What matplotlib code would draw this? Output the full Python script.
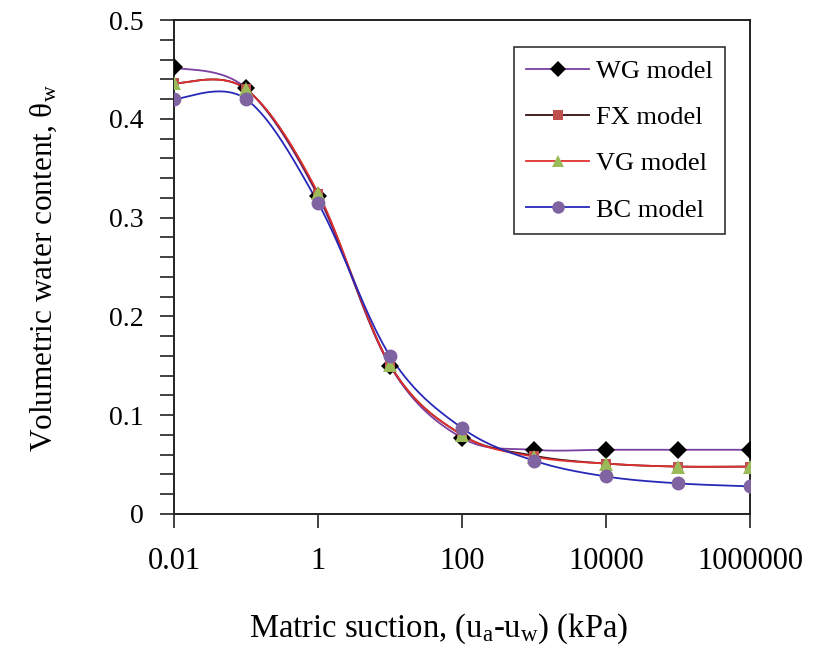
import numpy as np
import matplotlib
matplotlib.use("Agg")
import matplotlib.pyplot as plt
from matplotlib.ticker import FixedLocator, MultipleLocator, FixedFormatter

plt.rcParams['font.family'] = ['Liberation Serif', 'DejaVu Serif']
plt.rcParams['mathtext.fontset'] = 'custom'
plt.rcParams['mathtext.rm'] = 'Liberation Serif'
plt.rcParams['mathtext.it'] = 'Liberation Serif:italic'

suction = [0.01, 0.1, 1, 10, 100, 1000, 10000, 100000, 1000000]
wg = [0.452, 0.431, 0.322, 0.150, 0.077, 0.065, 0.065, 0.065, 0.065]
fx = [0.436, 0.430, 0.324, 0.151, 0.080, 0.059, 0.051, 0.048, 0.048]
vg = [0.436, 0.430, 0.325, 0.151, 0.080, 0.058, 0.051, 0.048, 0.048]
bc = [0.420, 0.420, 0.315, 0.160, 0.087, 0.054, 0.038, 0.031, 0.028]

x_ticks = [0.01, 1, 100, 10000, 1000000]
x_tick_labels = ['0.01', '1', '100', '10000', '1000000']
y_ticks = [0, 0.1, 0.2, 0.3, 0.4, 0.5]
y_tick_labels = ['0', '0.1', '0.2', '0.3', '0.4', '0.5']
series_names = ['WG model', 'FX model', 'VG model', 'BC model']


def smooth(xs, ys, n=40):
    # Excel-like smoothed line (Catmull-Rom Bezier) in log-x space
    lx = np.log10(np.asarray(xs, float))
    y = np.asarray(ys, float)
    P = np.column_stack([lx, y])
    m = len(P)
    out = []
    t = np.linspace(0, 1, n)[:, None]
    for i in range(m - 1):
        p0 = P[i - 1] if i > 0 else P[i]
        p1 = P[i]
        p2 = P[i + 1]
        p3 = P[i + 2] if i + 2 < m else P[i + 1]
        c1 = p1 + (p2 - p0) / 6.0
        c2 = p2 - (p3 - p1) / 6.0
        seg = ((1 - t) ** 3) * p1 + 3 * ((1 - t) ** 2) * t * c1 + 3 * (1 - t) * t ** 2 * c2 + t ** 3 * p2
        out.append(seg if i == 0 else seg[1:])
    pts = np.vstack(out)
    return 10 ** pts[:, 0], pts[:, 1]


fig = plt.figure(figsize=(8.13, 6.48), dpi=100)
ax = fig.add_axes([0.214, 0.2068, 0.7085, 0.7623])

styles = [
    (wg, '#7B3FA0', 'D', 'black', 9.5),
    (fx, '#3a1010', 's', '#C0504D', 7.5),
    (vg, '#E03030', '^', '#9BBB59', 10),
    (bc, '#2828B8', 'o', '#8064A2', 10),
]
handles = []
for (ys, lc, mk, mc, ms), name in zip(styles, series_names):
    sx, sy = smooth(suction, ys)
    ax.plot(sx, sy, color=lc, lw=1.3, zorder=2)
    ax.plot(suction, ys, linestyle='none', marker=mk, color=mc, markersize=ms,
            markeredgewidth=0, zorder=3)
    h, = ax.plot([], [], color=lc, lw=1.3, marker=mk, markerfacecolor=mc,
                 markeredgewidth=0, markersize=ms * 0.9, label=name)
    handles.append(h)

ax.set_xscale('log')
ax.set_xlim(0.01, 1000000)
ax.set_ylim(0, 0.5)
ax.xaxis.set_major_locator(FixedLocator(x_ticks))
ax.xaxis.set_major_formatter(FixedFormatter(x_tick_labels))
ax.xaxis.set_minor_locator(FixedLocator([]))
ax.set_yticks(y_ticks)
ax.set_yticklabels(y_tick_labels)
ax.yaxis.set_minor_locator(MultipleLocator(0.02))
ax.tick_params(axis='both', which='major', direction='out', length=10, width=1.2,
               color='#222222')
ax.tick_params(axis='y', which='minor', direction='out', length=10, width=1.2, color='#222222')
ax.tick_params(axis='x', which='major', pad=14, labelsize=22)
ax.tick_params(axis='y', which='major', pad=12, labelsize=20)
for s in ax.spines.values():
    s.set_linewidth(1.4)
    s.set_color('#222222')

ax.set_xlabel('Matric suction, (u$_\\mathregular{a}$-u$_\\mathregular{w}$) (kPa)', fontsize=23.5)
ax.xaxis.label.set_verticalalignment('baseline')
ax.xaxis.set_label_coords((439 - 174) / 576, (514 - 637) / 494)
ax.set_ylabel('Volumetric water content, θ$_\\mathregular{w}$', fontsize=22.5)
ax.yaxis.label.set_verticalalignment('baseline')
ax.yaxis.set_label_coords((52 - 174) / 576, (514 - 268) / 494)

leg = ax.legend(handles=handles, loc='upper right', bbox_to_anchor=(0.957, 0.945),
                fontsize=19, frameon=True, fancybox=False, edgecolor='black',
                handlelength=2.4, handletextpad=0.25, labelspacing=0.86,
                borderpad=0.47, borderaxespad=0)
leg.get_frame().set_linewidth(1.2)

fig.savefig('out.png', dpi=100)
